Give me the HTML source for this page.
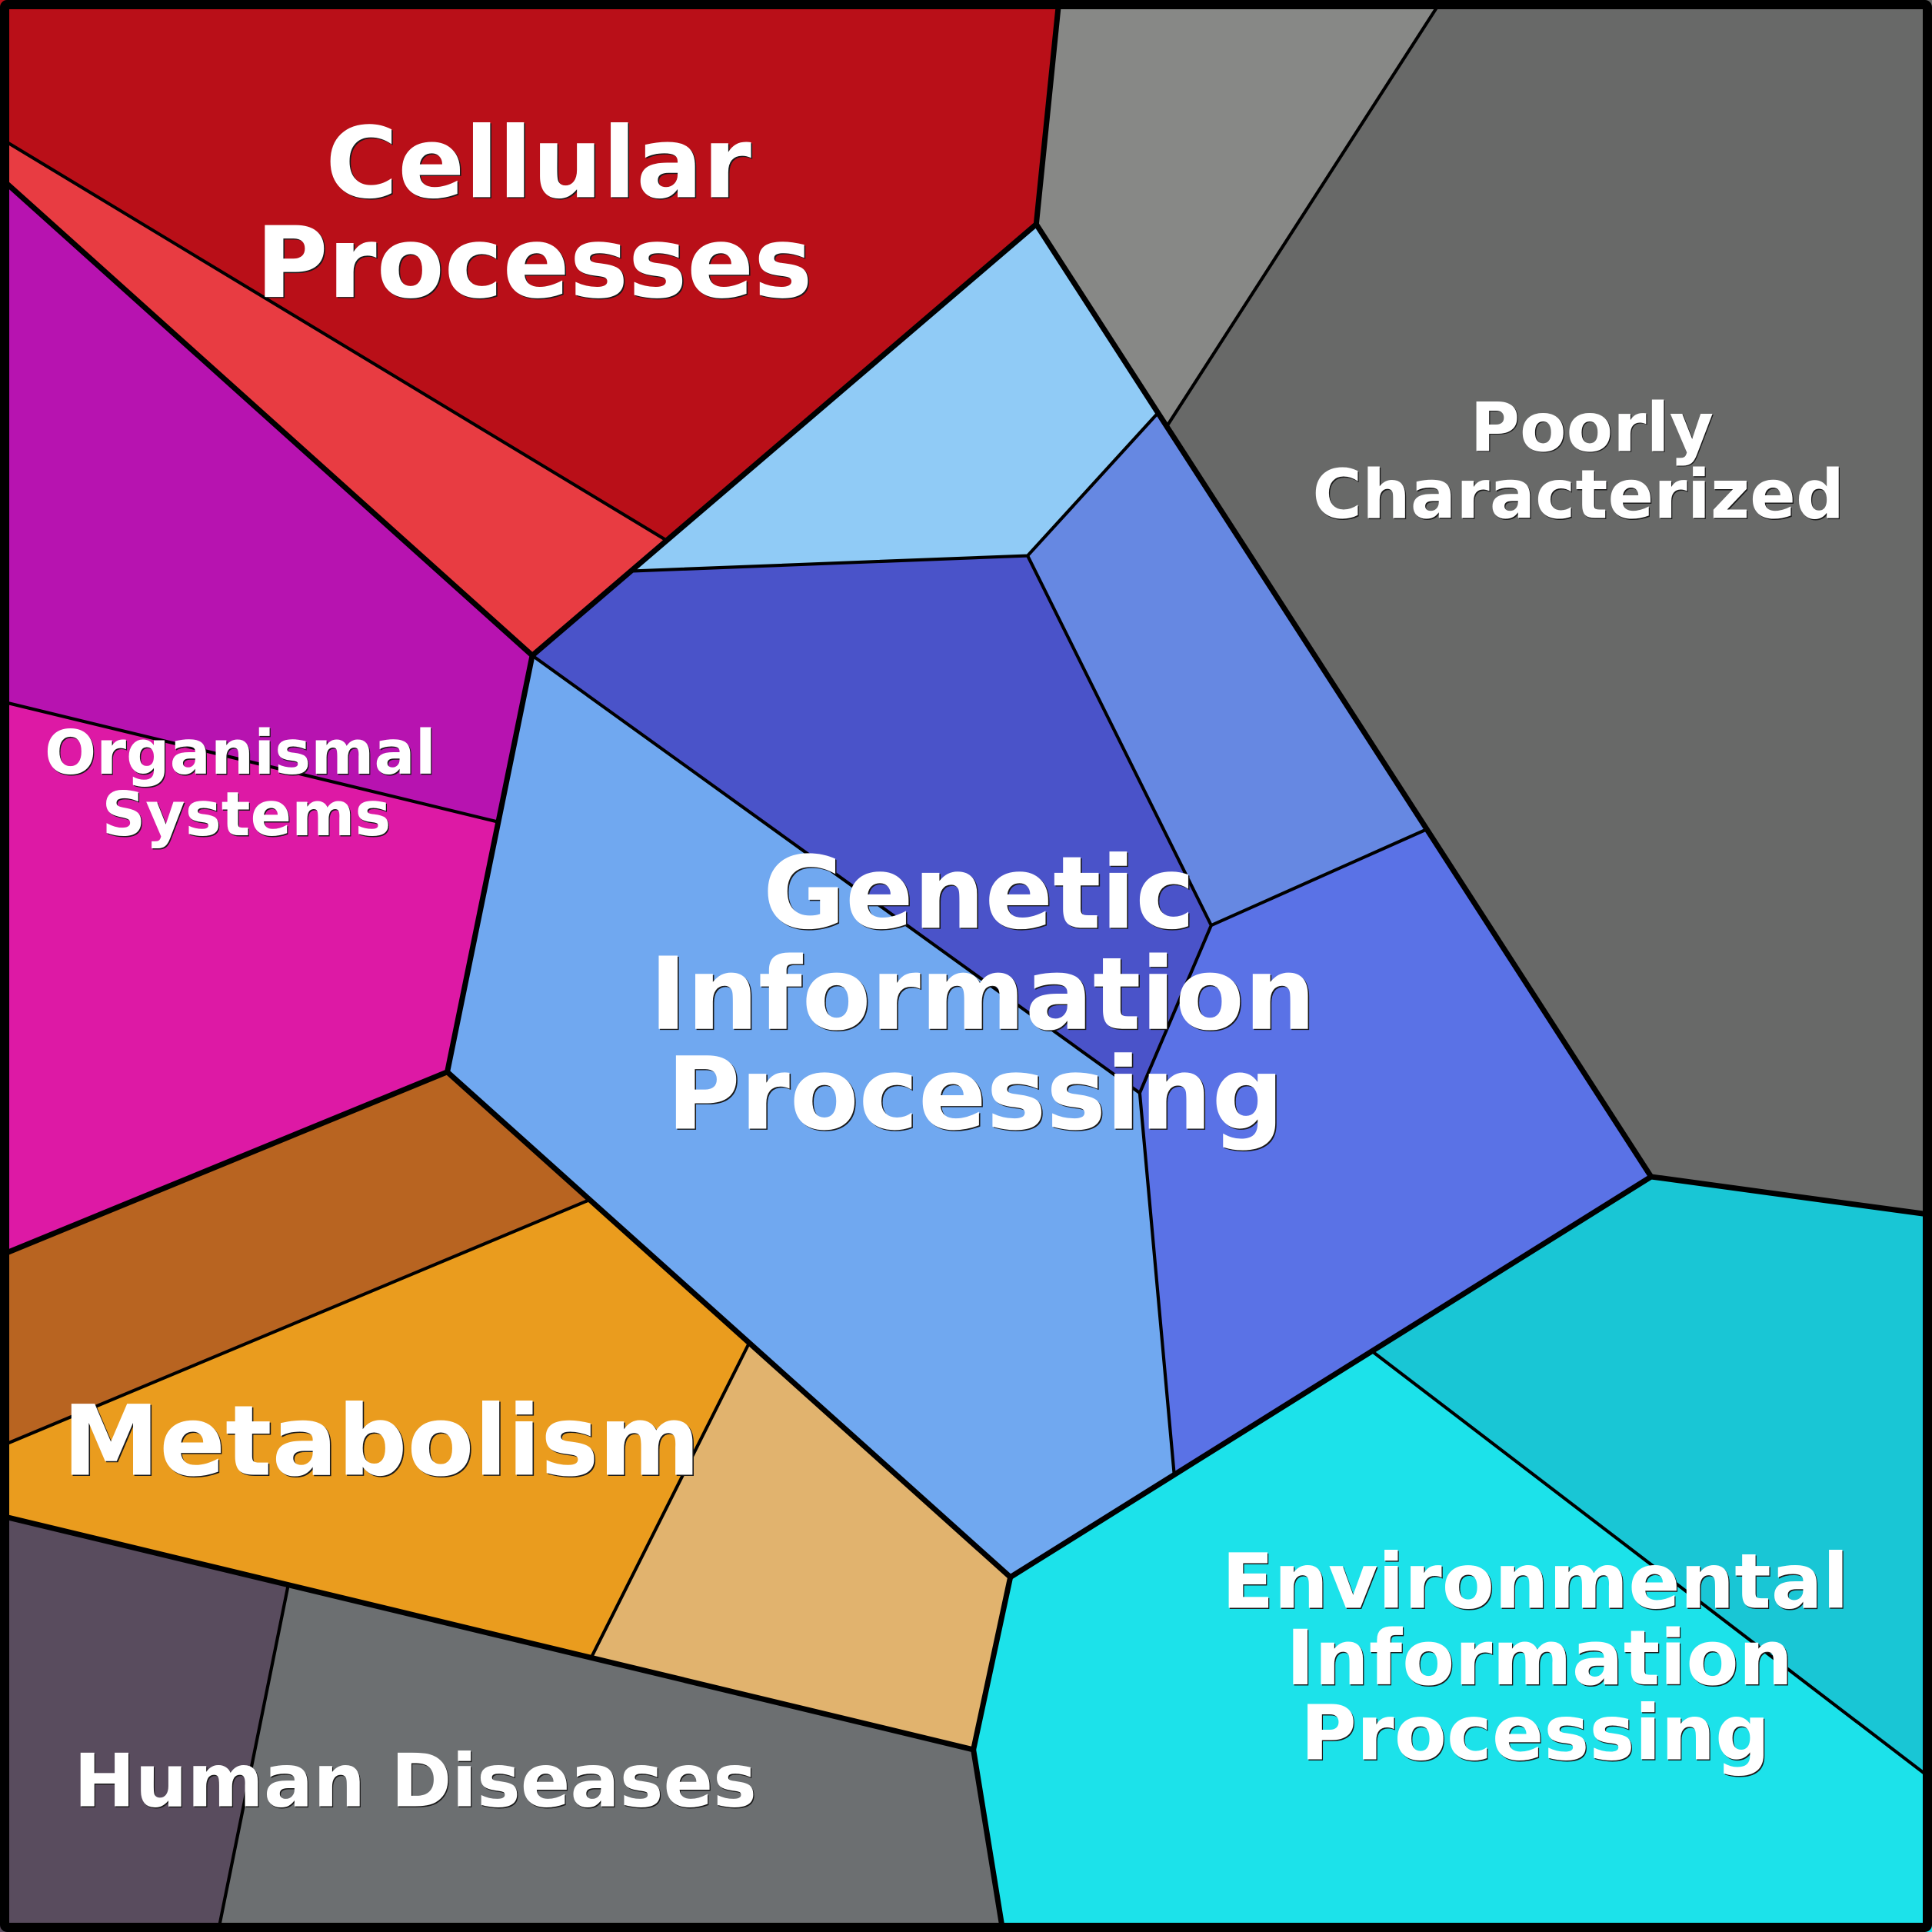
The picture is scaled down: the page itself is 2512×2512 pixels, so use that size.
<!DOCTYPE html>
<html>
<head>
<meta charset="utf-8">
<style>
html,body{margin:0;padding:0;background:#fff;}
svg{display:block;}
text{font-family:"DejaVu Sans","Liberation Sans",sans-serif;font-weight:bold;text-anchor:middle;}
.s{fill:#1a1a1a;}
.w{fill:#ffffff;}
</style>
</head>
<body>
<svg width="2512" height="2512" viewBox="0 0 1568 1568" xmlns="http://www.w3.org/2000/svg">
<g stroke="none">
<polygon fill="#B90F18" points="0,0 859.5,0 841,182 540,438 0,112"/>
<polygon fill="#E83C42" points="0,112 540,438 432,532 0,144"/>
<polygon fill="#878886" points="859.5,0 1170,0 947,346 841,182"/>
<polygon fill="#686968" points="1170,0 1568,0 1568,986 1340,955 947,346"/>
<polygon fill="#90CBF6" points="841,182 939,336 834,451 512,463.5"/>
<polygon fill="#6688E2" points="939,336 1158,673 983,751 834,451"/>
<polygon fill="#4A53C9" points="512,463.5 834,451 983,751 925,887 432,532"/>
<polygon fill="#5A72E6" points="983,751 1158,673 1340,955 953,1197 925,887"/>
<polygon fill="#70A8F0" points="432,532 925,887 953,1197 820,1280 608,1090 478,974 363,870 404,667"/>
<polygon fill="#B713B0" points="0,144 432,532 404,667 0,569"/>
<polygon fill="#DD19A5" points="0,569 404,667 363,870 0,1019"/>
<polygon fill="#B86421" points="0,1019 363,870 478,974 0,1174"/>
<polygon fill="#EA9C1E" points="0,1174 478,974 608,1090 480,1345 0,1230"/>
<polygon fill="#E1B36E" points="608,1090 820,1280 790,1420 480,1345"/>
<polygon fill="#594C5E" points="0,1230 234,1286 177,1568 0,1568"/>
<polygon fill="#6C6F71" points="234,1286 790,1420 814,1568 177,1568"/>
<polygon fill="#1CE2EA" points="820,1280 1114,1097 1568,1444 1568,1568 814,1568 790,1420"/>
<polygon fill="#19C6D5" points="1114,1097 1340,955 1568,986 1568,1444"/>
</g>
<g fill="none" stroke="#000" stroke-width="2.6" stroke-linejoin="round" stroke-linecap="round">
<polyline points="0,112 540,438"/>
<polyline points="1170,0 947,346"/>
<polyline points="939,336 834,451 512,463.5"/>
<polyline points="834,451 983,751 1158,673"/>
<polyline points="983,751 925,887 953,1197"/>
<polyline points="432,532 925,887"/>
<polyline points="0,569 404,667"/>
<polyline points="478,974 0,1174"/>
<polyline points="608,1090 480,1345"/>
<polyline points="234,1286 177,1568"/>
<polyline points="1114,1097 1568,1444"/>
</g>
<g fill="none" stroke="#000" stroke-width="4.4" stroke-linejoin="round" stroke-linecap="round">
<polyline points="859.5,0 841,182 432,532"/>
<polyline points="0,144 432,532 363,870 820,1280 1340,955 1568,986"/>
<polyline points="841,182 1340,955"/>
<polyline points="0,1019 363,870"/>
<polyline points="0,1230 790,1420 820,1280"/>
<polyline points="790,1420 814,1568"/>
</g>
<rect x="3.75" y="3.75" width="1560.5" height="1560.5" rx="2" ry="2" fill="none" stroke="#000" stroke-width="7.5"/>

<!-- Cellular Processes -->
<g font-size="80">
<text class="s" x="438" y="160.9">Cellular</text>
<text class="w" x="437" y="160">Cellular</text>
<text class="s" x="434.5" y="241.9">Processes</text>
<text class="w" x="433.5" y="241">Processes</text>
</g>
<!-- Genetic Information Processing -->
<g font-size="81.5">
<text class="s" x="795.5" y="753.9">Genetic</text>
<text class="w" x="794.5" y="753">Genetic</text>
<text class="s" x="798.5" y="835.9">Information</text>
<text class="w" x="797.5" y="835">Information</text>
<text class="s" x="792.5" y="916.9">Processing</text>
<text class="w" x="791.5" y="916">Processing</text>
</g>
<!-- Poorly Characterized -->
<g font-size="55">
<text class="s" x="1292.8" y="366.8">Poorly</text>
<text class="w" x="1292" y="366">Poorly</text>
<text class="s" x="1281.8" y="421.3">Characterized</text>
<text class="w" x="1281" y="420.5">Characterized</text>
</g>
<!-- Organismal Systems -->
<g font-size="49.3">
<text class="s" x="195.8" y="628.8">Organismal</text>
<text class="w" x="195" y="628">Organismal</text>
<text class="s" x="200.8" y="678.8">Systems</text>
<text class="w" x="200" y="678">Systems</text>
</g>
<!-- Metabolism -->
<g font-size="79">
<text class="s" x="310.5" y="1197.9">Metabolism</text>
<text class="w" x="309.5" y="1197">Metabolism</text>
</g>
<!-- Environmental Information Processing -->
<g font-size="62">
<text class="s" x="1246.8" y="1305.8">Environmental</text>
<text class="w" x="1246" y="1305">Environmental</text>
<text class="s" x="1250.3" y="1367.8">Information</text>
<text class="w" x="1249.5" y="1367">Information</text>
<text class="s" x="1246.8" y="1428.8">Processing</text>
<text class="w" x="1246" y="1428">Processing</text>
</g>
<!-- Human Diseases -->
<g font-size="59.5">
<text class="s" x="337.8" y="1466.8">Human Diseases</text>
<text class="w" x="337" y="1466">Human Diseases</text>
</g>
</svg>
</body>
</html>
